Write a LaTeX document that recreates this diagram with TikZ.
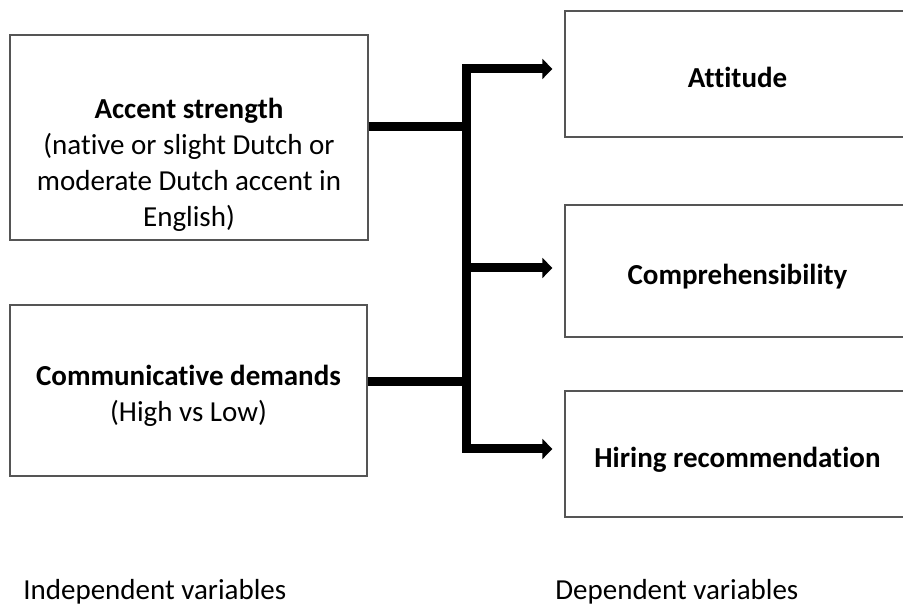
\documentclass[tikz,border=0pt]{standalone}
\usepackage{fontspec}
\setmainfont{Carlito}[Ligatures=NoCommon]
\usepackage{tikz}
\usetikzlibrary{arrows.meta,positioning}
\definecolor{frame}{HTML}{555555}

\begin{document}
\begin{tikzpicture}[
    varbox/.style={rectangle, draw=frame, line width=0.6pt, fill=white, inner sep=0pt, align=center, font=\fontsize{16.5}{20.5}\selectfont},
    boxtext/.style={align=center, font=\fontsize{16.5}{20.5}\selectfont},
    link/.style={line width=0.18cm, black},
    head/.style={-{Triangle[length=2mm, width=3.9mm]}, shorten >=0.24cm}
]
    \clip (0,0) rectangle (18.06,12.16);
    \useasboundingbox (0,0) rectangle (18.06,12.16);

    % Independent variables
    \node[varbox, minimum width=7.16cm, minimum height=4.1cm] (acc) at (3.78,9.41) {};
    \node[boxtext] (acctext) at (3.78,8.86)
        {\textbf{Accent strength}\\(native or slight Dutch or\\moderate Dutch accent in\\English)};
    \node[varbox, minimum width=7.14cm, minimum height=3.42cm] (comm) at (3.77,4.35) {};
    \node[boxtext] (commtext) at (3.77,4.25)
        {\textbf{Communicative demands}\\(High vs Low)};

    % Dependent variables
    \tikzset{depbox/.style={varbox, minimum width=6.9cm, text height=0.66cm, text depth=0.1cm}}
    \node[depbox, minimum height=2.52cm] (att) at (14.75,10.68) {\textbf{Attitude}};
    \node[depbox, minimum height=2.64cm] (comp) at (14.75,6.74) {\textbf{Comprehensibility}};
    \node[depbox, minimum height=2.52cm] (hire) at (14.75,3.08) {\textbf{Hiring recommendation}};

    % Bus between the two columns
    \coordinate (top) at (9.32,10.78);
    \coordinate (mid) at (9.32,6.8);
    \coordinate (bot) at (9.32,3.18);
    \coordinate (ja) at (9.32,9.62);
    \coordinate (jc) at (9.32,4.52);

    \draw[link] (acc.east |- ja) -- (ja);
    \draw[link] (comm.east |- jc) -- (jc);
    \draw[link, head, {Triangle[length=2mm, width=3.9mm]}-{Triangle[length=2mm, width=3.9mm]}, shorten <=0.24cm]
        (att.west |- top) -- (top) -- (bot) -- (hire.west |- bot);
    \draw[link, head] (mid) -- (comp.west |- mid);

    % Column captions
    \node[anchor=base west, inner sep=0pt, font=\fontsize{16.5}{20.5}\selectfont] (indep) at (0.46,0.16) {Independent variables};
    \node[anchor=base west, inner sep=0pt, font=\fontsize{16.5}{20.5}\selectfont] (dep) at (11.1,0.16) {Dependent variables};
\end{tikzpicture}
\end{document}
